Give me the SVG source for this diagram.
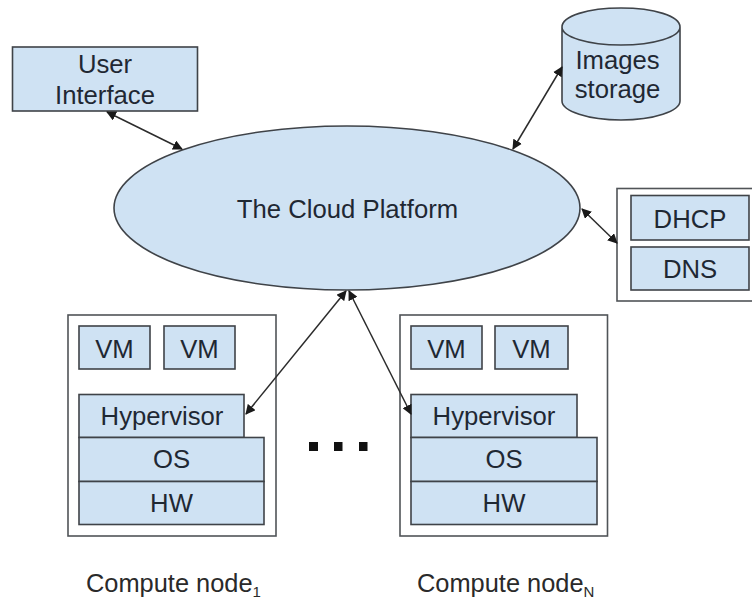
<svg xmlns="http://www.w3.org/2000/svg" width="752" height="601" viewBox="0 0 752 601">
<style>
.s{fill:#cfe2f3;stroke:#3f4348;stroke-width:1.6}
.o{fill:#fff;stroke:#505458;stroke-width:1.6}
text{font-family:"Liberation Sans",Arial,sans-serif;font-size:25.700px;fill:#1f2833;text-anchor:middle}
.l{text-anchor:start;fill:#2a2a2a;font-size:25.400px}
.c{fill:none;stroke:#2b2b2b;stroke-width:1.5;marker-start:url(#a);marker-end:url(#a)}
.d{fill:#111}
</style>
<defs>
<marker id="a" viewBox="0 0 10 10" refX="9" refY="5" markerWidth="10" markerHeight="10" markerUnits="userSpaceOnUse" orient="auto-start-reverse"><path d="M0 0L10 5L0 10z" fill="#1a1a1a"/></marker>
</defs>
<rect width="752" height="601" fill="#fff"/>
<g id="user-interface"><rect class="s" x="12.500" y="47" width="185" height="64"/><text x="105" y="73">User</text><text x="105" y="104">Interface</text></g>
<g id="cloud-platform"><ellipse class="s" cx="347" cy="208" rx="233" ry="82"/><text x="347.500" y="218">The Cloud Platform</text></g>
<g id="images-storage"><path class="s" d="M562 27V101C562 111 588 120 621 120C654 120 680 111 680 101V27C680 16 654 8 621 8C588 8 562 16 562 27C562 37 588 45 621 45C654 45 680 37 680 27"/><text x="617.500" y="69">Images</text><text x="617.500" y="98">storage</text></g>
<g id="network-services"><rect class="o" x="617" y="188.500" width="140" height="112.500"/><rect class="s" x="631" y="195.500" width="118" height="44.500"/><text x="690" y="228">DHCP</text><rect class="s" x="631" y="247" width="118" height="43"/><text x="690" y="278">DNS</text></g>
<g id="compute-1"><rect class="o" x="68" y="315" width="208" height="221"/>
<rect class="s" x="79" y="326" width="71" height="43"/><text x="114.500" y="358">VM</text>
<rect class="s" x="164" y="326" width="71" height="43"/><text x="199.500" y="358">VM</text>
<rect class="s" x="79" y="394.500" width="165" height="43"/><text x="162" y="425">Hypervisor</text>
<rect class="s" x="79" y="437.500" width="185" height="44"/><text x="171.500" y="468">OS</text>
<rect class="s" x="79" y="481.500" width="185" height="43"/><text x="171.500" y="512">HW</text>
<text class="l" x="86" y="592">Compute node<tspan font-size="15" dy="5">1</tspan></text></g>
<g id="compute-n"><rect class="o" x="400" y="315" width="207.500" height="221"/>
<rect class="s" x="411" y="326" width="71" height="43"/><text x="446.500" y="358">VM</text>
<rect class="s" x="495" y="326" width="73" height="43"/><text x="531.500" y="358">VM</text>
<rect class="s" x="411" y="394.500" width="166" height="43"/><text x="494" y="425">Hypervisor</text>
<rect class="s" x="411" y="437.500" width="186" height="44"/><text x="504" y="468">OS</text>
<rect class="s" x="411" y="481.500" width="186" height="43"/><text x="504" y="512">HW</text>
<text class="l" x="417" y="592">Compute node<tspan font-size="15" dy="5">N</tspan></text></g>
<g id="ellipsis"><rect class="d" x="309" y="442" width="9" height="9"/><rect class="d" x="334" y="442" width="8.500" height="9"/><rect class="d" x="359" y="442" width="8.500" height="9"/></g>
<g id="connectors">
<path class="c" d="M107 112L182 149"/>
<path class="c" d="M562 67L513 149"/>
<path class="c" d="M582 209L617 243"/>
<path class="c" d="M346 291L246 414"/>
<path class="c" d="M349 291L411 414"/>
</g>
</svg>
